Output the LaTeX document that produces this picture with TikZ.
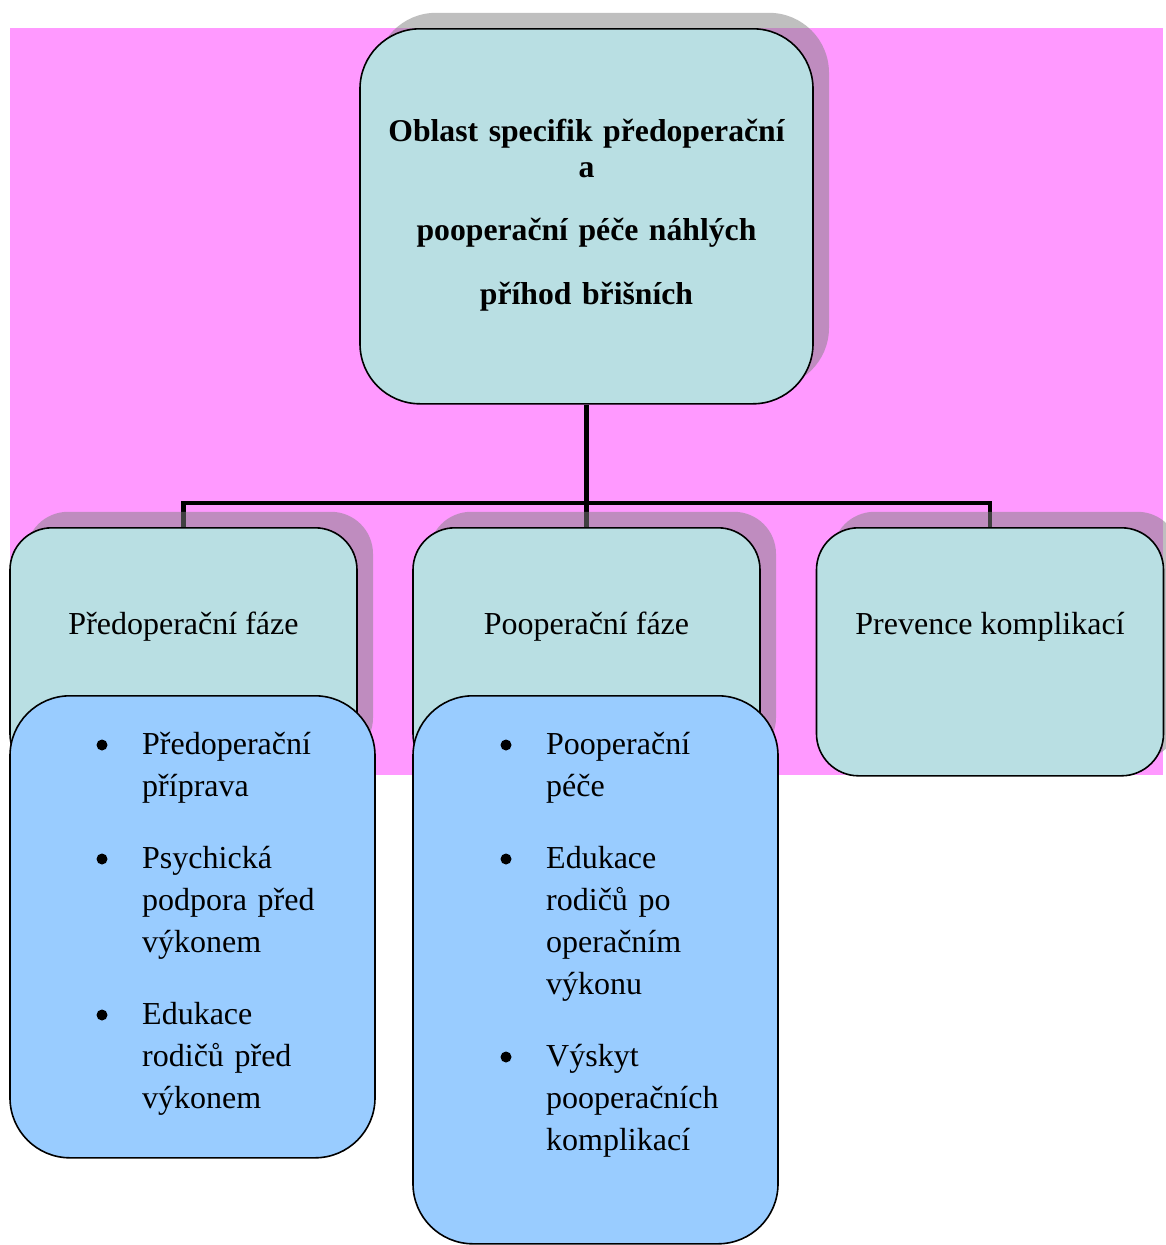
\documentclass[tikz,border=0pt]{standalone}
\usepackage{fontspec}
\setmainfont{Liberation Serif}
\usetikzlibrary{shadows,calc}
\definecolor{pinkbg}{HTML}{FF99FF}
\definecolor{tealfill}{HTML}{B9DFE3}
\definecolor{bluefill}{HTML}{99CCFF}
\pgfdeclarelayer{bg}
\pgfdeclarelayer{wires}
\pgfsetlayers{bg,wires,main}

\tikzset{
  box/.style={draw=black, line width=1.6pt, rounded corners=#1, inner sep=0pt, align=center},
  shadowed/.style={drop shadow={shadow xshift=16pt, shadow yshift=16pt, fill=gray, opacity=0.5}},
  phasebox/.style={box=42pt, fill=tealfill, shadowed, anchor=north,
    minimum width=347pt, text height=107pt, text depth=141pt,
    font=\fontsize{32pt}{38pt}\selectfont},
  listbox/.style={box=60pt, fill=bluefill, anchor=north, minimum width=365pt},
  listitem/.style={inner sep=0pt, anchor=base west, text width=230pt, align=left,
    font=\fontsize{32pt}{42.3pt}\selectfont},
  wire/.style={draw=black, line width=4.6pt},
  dot/.style={fill=black}
}

\begin{document}
\begin{tikzpicture}[x=1pt, y=-1pt]
\useasboundingbox (0,0) rectangle (1165,1245);

\begin{pgfonlayer}{bg}
  \fill[pinkbg] (10,28) rectangle (1163,775);
\end{pgfonlayer}

% root box
\node[box=60pt, fill=tealfill, shadowed, anchor=north, minimum width=453pt,
      text width=440pt, text height=113pt, text depth=262pt,
      font=\bfseries\fontsize{31.7pt}{36pt}\selectfont]
  (root) at (586.5,28)
  {Oblast specifik předoperační\\a\\[27pt]pooperační péče náhlých\\[28pt]příhod břišních};

% phase boxes
\node[phasebox] (pre)  at (183.5,527) {Předoperační fáze};
\node[phasebox] (post) at (586.5,527) {Pooperační fáze};
\node[phasebox] (prev) at (990,527)   {Prevence komplikací};

% connectors
\begin{pgfonlayer}{wires}
  \coordinate (lvl) at (0,503);
  \coordinate (hub) at (root.south |- lvl);
  \draw[wire] (root.south) -- (post.north);
  \draw[wire] (pre.north) |- (hub) -| (prev.north);
\end{pgfonlayer}

% bullet lists
\node[listbox, minimum height=462pt] (preList)  at (192.5,695) {};
\node[listbox, minimum height=548pt] (postList) at (595.5,695) {};

\node[listitem] (a1) at (142,754)  {Předoperační\\příprava};
\node[listitem] (a2) at (142,868)  {Psychická\\podpora před\\výkonem};
\node[listitem] (a3) at (142,1024) {Edukace\\rodičů před\\výkonem};

\node[listitem] (b1) at (546,754)  {Pooperační\\péče};
\node[listitem] (b2) at (546,868)  {Edukace\\rodičů po\\operačním\\výkonu};
\node[listitem] (b3) at (546,1066) {Výskyt\\pooperačních\\komplikací};

\foreach \it in {a1,a2,a3,b1,b2,b3}
  \fill[dot] ($(\it.base west)+(-40,-9)$) circle (5.5pt);

\end{tikzpicture}
\end{document}
